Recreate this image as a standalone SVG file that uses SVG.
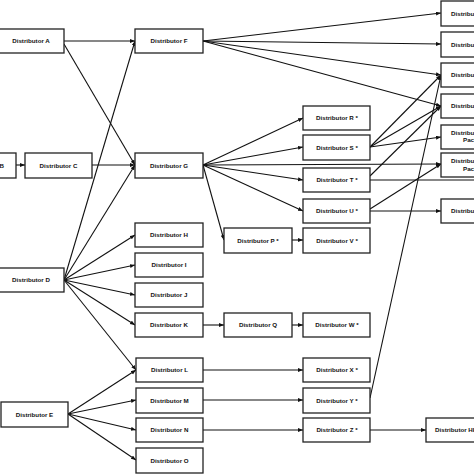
<svg xmlns="http://www.w3.org/2000/svg" width="474" height="474" viewBox="0 0 474 474">
<style>
.n rect{fill:#fff;stroke:#222;stroke-width:1.3}
.n text{font-family:"Liberation Sans",Arial,sans-serif;font-weight:bold;font-size:6.2px;fill:#111;text-anchor:middle}
.n text.s{text-anchor:start}
.n text.e{text-anchor:end}
#edges line{stroke:#111;stroke-width:1.1;marker-end:url(#ah)}
#edges line.na{marker-end:none}
</style>
<defs>
<marker id="ah" markerUnits="userSpaceOnUse" markerWidth="6" markerHeight="5" refX="5" refY="2" orient="auto">
<path d="M0,0 L5,2 L0,4 z" fill="#111"/>
</marker>
</defs>
<rect width="474" height="474" fill="#fff"/>
<g id="edges">
<line x1="64" y1="41" x2="135" y2="41"/>
<line x1="64" y1="44" x2="135" y2="165"/>
<line x1="64" y1="280" x2="135" y2="41"/>
<line x1="92" y1="165" x2="135" y2="165"/>
<line x1="64" y1="280" x2="135" y2="165"/>
<line x1="16" y1="165" x2="25" y2="165"/>
<line x1="64" y1="280" x2="135" y2="235"/>
<line x1="64" y1="280" x2="135" y2="265"/>
<line x1="64" y1="280" x2="135" y2="295"/>
<line x1="64" y1="280" x2="135" y2="325"/>
<line x1="64" y1="280" x2="136" y2="370"/>
<line x1="68" y1="414" x2="136" y2="370"/>
<line x1="68" y1="414" x2="136" y2="400"/>
<line x1="68" y1="414" x2="136" y2="430"/>
<line x1="68" y1="414" x2="136" y2="460"/>
<line x1="203" y1="325" x2="224" y2="325"/>
<line x1="292" y1="325" x2="303" y2="325"/>
<line x1="203" y1="370" x2="303" y2="370"/>
<line x1="203" y1="400" x2="303" y2="400"/>
<line x1="203" y1="430" x2="303" y2="430"/>
<line x1="370" y1="430" x2="426" y2="430"/>
<line x1="203" y1="165" x2="303" y2="118"/>
<line x1="203" y1="165" x2="303" y2="147"/>
<line x1="203" y1="165" x2="441" y2="164"/>
<line x1="203" y1="165" x2="303" y2="180"/>
<line x1="203" y1="165" x2="303" y2="211"/>
<line x1="203" y1="165" x2="224" y2="240"/>
<line x1="292" y1="240" x2="303" y2="240"/>
<line x1="203" y1="41" x2="441" y2="13"/>
<line x1="203" y1="41" x2="441" y2="44"/>
<line x1="203" y1="41" x2="441" y2="75"/>
<line x1="203" y1="41" x2="441" y2="106"/>
<line x1="370" y1="147" x2="441" y2="75"/>
<line x1="370" y1="147" x2="441" y2="106"/>
<line x1="370" y1="147" x2="441" y2="137"/>
<line x1="370" y1="176" x2="441" y2="106"/>
<line class="na" x1="370" y1="180" x2="476" y2="180"/>
<line x1="370" y1="209" x2="441" y2="164"/>
<line x1="370" y1="211" x2="441" y2="211"/>
<line x1="370" y1="398" x2="441" y2="75"/>
</g>
<g id="nB" class="n"><rect x="-60" y="153" width="76" height="25"/><text class="e" x="4" y="168">Distributor B</text></g>
<g id="nA" class="n"><rect x="-2" y="29" width="66" height="24"/><text x="31" y="43">Distributor A</text></g>
<g id="nC" class="n"><rect x="25" y="153" width="67" height="25"/><text x="58.5" y="168">Distributor C</text></g>
<g id="nD" class="n"><rect x="-2" y="268" width="66" height="24"/><text x="31" y="282">Distributor D</text></g>
<g id="nE" class="n"><rect x="1" y="402" width="67" height="25"/><text x="34.5" y="416.5">Distributor E</text></g>
<g id="nF" class="n"><rect x="135" y="29" width="68" height="24"/><text x="169" y="43">Distributor F</text></g>
<g id="nG" class="n"><rect x="135" y="153" width="68" height="25"/><text x="169" y="168">Distributor G</text></g>
<g id="nH" class="n"><rect x="135" y="223" width="68" height="24"/><text x="169" y="237">Distributor H</text></g>
<g id="nI" class="n"><rect x="135" y="253" width="68" height="24"/><text x="169" y="267">Distributor I</text></g>
<g id="nJ" class="n"><rect x="135" y="283" width="68" height="24"/><text x="169" y="297">Distributor J</text></g>
<g id="nK" class="n"><rect x="135" y="313" width="68" height="24"/><text x="169" y="327">Distributor K</text></g>
<g id="nL" class="n"><rect x="136" y="358" width="67" height="24"/><text x="169.5" y="372">Distributor L</text></g>
<g id="nM" class="n"><rect x="136" y="388" width="67" height="25"/><text x="169.5" y="402.5">Distributor M</text></g>
<g id="nN" class="n"><rect x="136" y="418" width="67" height="24"/><text x="169.5" y="432">Distributor N</text></g>
<g id="nO" class="n"><rect x="136" y="448" width="67" height="25"/><text x="169.5" y="462.5">Distributor O</text></g>
<g id="nP" class="n"><rect x="224" y="228" width="68" height="25"/><text x="258" y="242.5">Distributor P *</text></g>
<g id="nQ" class="n"><rect x="224" y="313" width="68" height="24"/><text x="258" y="327">Distributor Q</text></g>
<g id="nR" class="n"><rect x="303" y="106" width="67" height="24"/><text x="337" y="120">Distributor R *</text></g>
<g id="nS" class="n"><rect x="303" y="135" width="67" height="25"/><text x="337" y="149.5">Distributor S *</text></g>
<g id="nT" class="n"><rect x="303" y="168" width="67" height="24"/><text x="337" y="182">Distributor T *</text></g>
<g id="nU" class="n"><rect x="303" y="199" width="67" height="24"/><text x="337" y="213">Distributor U *</text></g>
<g id="nV" class="n"><rect x="303" y="228" width="67" height="25"/><text x="337" y="242.5">Distributor V *</text></g>
<g id="nW" class="n"><rect x="303" y="313" width="67" height="24"/><text x="337" y="327">Distributor W *</text></g>
<g id="nX" class="n"><rect x="303" y="358" width="67" height="24"/><text x="337" y="372">Distributor X *</text></g>
<g id="nY" class="n"><rect x="303" y="388" width="67" height="25"/><text x="337" y="402.5">Distributor Y *</text></g>
<g id="nZ" class="n"><rect x="303" y="418" width="67" height="24"/><text x="337" y="432">Distributor Z *</text></g>
<g id="nHH" class="n"><rect x="426" y="418" width="70" height="24"/><text class="s" x="435" y="432">Distributor HH</text></g>
<g id="nR1" class="n"><rect x="441" y="1" width="70" height="25"/><text class="s" x="451" y="15.5">Distributor</text></g>
<g id="nR2" class="n"><rect x="441" y="32" width="70" height="25"/><text class="s" x="451" y="46.5">Distributor</text></g>
<g id="nR3" class="n"><rect x="441" y="63" width="70" height="24"/><text class="s" x="451" y="77">Distributor</text></g>
<g id="nR4" class="n"><rect x="441" y="94" width="70" height="24"/><text class="s" x="451" y="108">Distributor</text></g>
<g id="nR5" class="n"><rect x="441" y="125" width="70" height="24"/><text class="s" x="451" y="134.5">Distributor</text><text class="s" x="463" y="142">Packer</text></g>
<g id="nR6" class="n"><rect x="441" y="153" width="70" height="24"/><text class="s" x="451" y="163">Distributor</text><text class="s" x="463" y="170.5">Packer</text></g>
<g id="nR7" class="n"><rect x="441" y="199" width="70" height="24"/><text class="s" x="451" y="213">Distributor</text></g>
</svg>
